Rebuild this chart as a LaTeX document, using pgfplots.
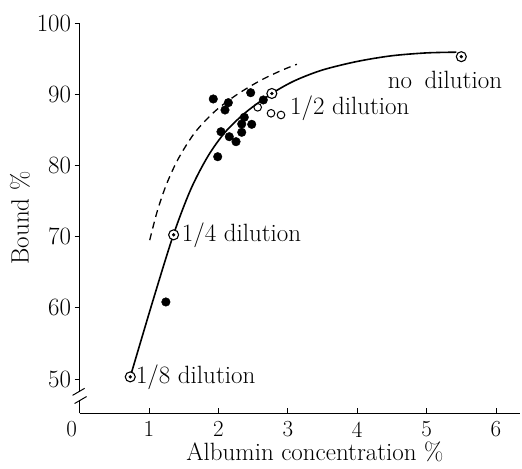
\documentclass[border=0pt]{standalone}
\usepackage{pgfplots}
\pgfplotsset{compat=1.18}

\begin{document}
\begin{tikzpicture}
\begin{axis}[
  scale only axis, width=440.7pt, height=390.2pt,
  xmin=0, xmax=6.35, ymin=45.2, ymax=100,
  axis x line*=bottom, axis y line*=left,
  axis line style={-, black, line width=1.3pt},
  xtick={0,1,...,6}, ytick={50,60,...,100},
  xticklabels={\kern-8pt 0\kern8pt,1,2,3,4,5,6},
  tick align=outside, major tick length=5pt,
  tick style={black, line width=0.8pt},
  xtick style={yshift=5pt},
  font=\fontsize{25}{29}\selectfont,
  ticklabel style={font=\fontsize{23}{27}\selectfont},
  xlabel={Albumin concentration \%},
  ylabel={Bound \%},
  xlabel style={xshift=15pt, yshift=2pt},
  clip=false,
]
% fitted curves
\addplot[black, line width=1.6pt, smooth] coordinates {
  (0.73,50.3) (1.05,60.8) (1.35,70.2) (1.60,76.6) (1.85,81.3) (2.10,84.7)
  (2.40,87.5) (2.77,90.1) (3.10,91.9) (3.50,93.4) (4.00,94.6) (4.50,95.4)
  (5.00,95.8) (5.43,95.9)};
\addplot[black, line width=1.3pt, smooth, dash pattern=on 7pt off 5pt] coordinates {
  (1.01,69.5) (1.12,73.6) (1.25,77.3) (1.42,80.9) (1.66,84.6) (1.95,87.6)
  (2.26,89.9) (2.60,91.9) (2.90,93.3) (3.13,94.2)};
% measured points
\addplot[only marks, mark=*, mark size=4.3pt, black] coordinates {
  (1.926,89.33) (2.143,88.81) (2.095,87.78) (2.465,90.21) (2.647,89.19)
  (2.373,86.76) (2.336,85.81) (2.480,85.77) (2.336,84.65) (2.037,84.73)
  (2.157,84.03) (2.254,83.33) (1.990,81.22) (1.243,60.82)};
\addplot[only marks, mark=o, mark size=3.8pt, black, mark options={line width=1pt}] coordinates {
  (2.566,88.16) (2.758,87.32) (2.902,87.08)};
% dilution points (circle with dot)
\addplot[only marks, mark=*, mark size=5pt, mark options={fill=white, draw=black, line width=1.1pt}] coordinates {
  (0.73,50.3) (1.355,70.25) (2.77,90.1) (5.50,95.27)};
\addplot[only marks, mark=*, mark size=1.5pt, black] coordinates {
  (0.73,50.3) (1.355,70.25) (2.77,90.1) (5.50,95.27)};
% labels
\node[anchor=west, inner sep=0pt] at (axis cs:0.81,50.2) {1/8 dilution};
\node[anchor=west, inner sep=0pt] at (axis cs:1.47,70.2) {1/4 dilution};
\node[anchor=west, inner sep=0pt] at (axis cs:3.03,88.0) {1/2 dilution};
\node[anchor=west, inner sep=0pt] at (axis cs:4.44,92.0) {no\hspace{0.5em}dilution};
% axis break
\fill[white] ([xshift=-3pt]axis cs:0,47.05) rectangle ([xshift=3pt]axis cs:0,48.2);
\draw[black, line width=1pt] ([xshift=-7pt,yshift=-3.5pt]axis cs:0,48.2) -- ++(12pt,7pt);
\draw[black, line width=1pt] ([xshift=-5pt,yshift=-3.5pt]axis cs:0,47.05) -- ++(12pt,7pt);
\end{axis}
\path ([shift={(-79.6pt,-55pt)}]current axis.south west) rectangle ([shift={(1.7pt,23pt)}]current axis.north east);
\end{tikzpicture}
\end{document}
